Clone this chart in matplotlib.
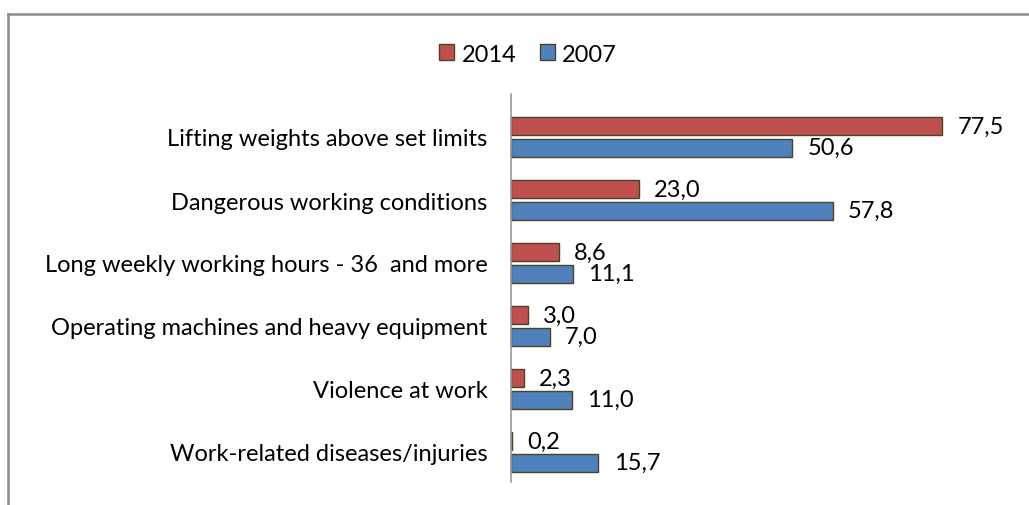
import matplotlib
matplotlib.use("Agg")
import matplotlib.pyplot as plt
from matplotlib.lines import Line2D
import numpy as np

categories = ["Lifting weights above set limits",
              "Dangerous working conditions",
              "Long weekly working hours - 36  and more",
              "Operating machines and heavy equipment",
              "Violence at work",
              "Work-related diseases/injuries"]
values_2014 = [77.5, 23.0, 8.6, 3.0, 2.3, 0.2]
values_2007 = [50.6, 57.8, 11.1, 7.0, 11.0, 15.7]
series_names = ["2014", "2007"]

plt.rcParams['font.family'] = ['Lato', 'DejaVu Sans']

W, H = 1029, 506
fig = plt.figure(figsize=(W/100, H/100), dpi=100)
ax = fig.add_axes([511/W, 1-483/H, (956-511)/W, (483-95)/H])

n = len(categories)
y = np.arange(n)
bh = 0.28
gap = 0.03
red = '#C0504D'
blue = '#4F81BD'
edge = '#4a4426'
fs = 17

b1 = ax.barh(y - bh/2 - gap, values_2014, height=bh, color=red, edgecolor=edge, linewidth=1.0, label=series_names[0])
b2 = ax.barh(y + bh/2 + gap, values_2007, height=bh, color=blue, edgecolor=edge, linewidth=1.0, label=series_names[1])

fmt = lambda v: f"{v:.1f}".replace('.', ',')
for rects, vals in ((b1, values_2014), (b2, values_2007)):
    for r, v in zip(rects, vals):
        ax.annotate(fmt(v), (r.get_width(), r.get_y() + r.get_height()/2),
                    xytext=(11, 0), textcoords='offset points',
                    va='center', ha='left', fontsize=fs, color='black')

ax.set_xlim(0, 80)
ax.set_ylim((483-138)/63, (95-138)/63)
ax.set_yticks(y)
ax.set_yticklabels(categories, fontsize=fs)
ax.tick_params(axis='y', length=0, pad=17)
ax.set_xticks([])
for s in ['top', 'right', 'bottom']:
    ax.spines[s].set_visible(False)
ax.spines['left'].set_color('#999999')
ax.spines['left'].set_linewidth(1.2)

leg = fig.legend(handles=[b1, b2], loc='center', bbox_to_anchor=(528/W, 1-55/H),
                 ncol=2, frameon=False, fontsize=fs, handlelength=0.65, handleheight=0.65,
                 handletextpad=0.3, columnspacing=1.0)

# outer border (top and left visible)
fig.add_artist(Line2D([8/W, 1.0], [1-15/H, 1-15/H], transform=fig.transFigure, color='#8c8c8c', lw=1.8))
fig.add_artist(Line2D([8/W, 8/W], [0, 1-15/H], transform=fig.transFigure, color='#8c8c8c', lw=1.8))

fig.savefig('out.png', dpi=100)
